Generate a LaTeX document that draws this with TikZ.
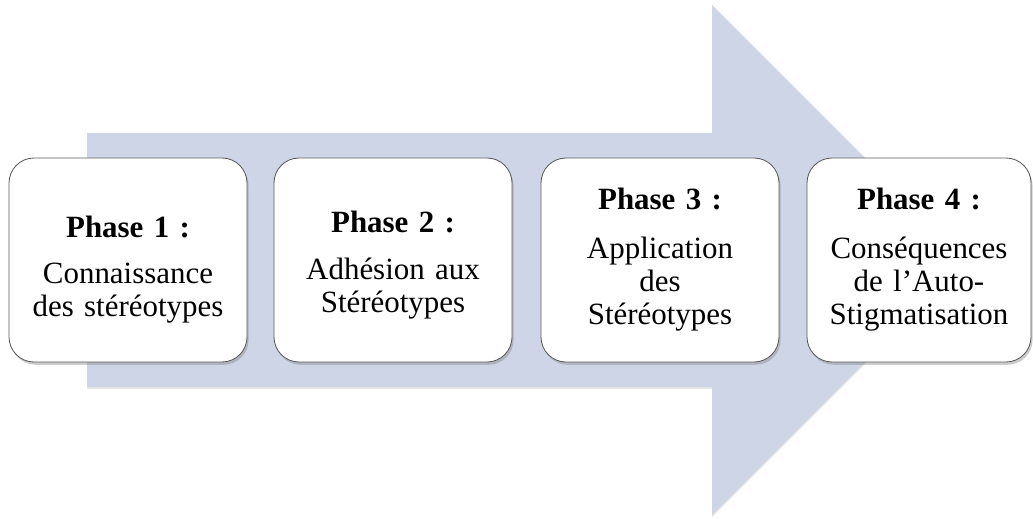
\documentclass[tikz,border=0pt]{standalone}
\usepackage{fontspec}
\setmainfont{Liberation Serif}
\usepackage{tikz}
\usepackage{xcolor}
\usetikzlibrary{shapes, shadows}

\definecolor{arrowblue}{HTML}{CDD5E6}
\definecolor{boxline}{HTML}{5A5A5A}

\begin{document}
\begin{tikzpicture}[
        phase/.style={rectangle, rounded corners=0.625cm, draw=boxline, line width=0.6pt, fill=white,
            minimum width=5.95cm, minimum height=5.1cm, text width=5.4cm, align=center,
            font=\fontsize{22}{23.5}\selectfont,
            drop shadow={opacity=0.4, shadow xshift=0.04cm, shadow yshift=-0.07cm}}]
        \useasboundingbox (0, 0) rectangle (25.825, 12.95);

        % big arrow behind the phases
        \fill[arrowblue, drop shadow={opacity=0.2, shadow xshift=0cm, shadow yshift=-0.05cm}]
            (2.175, 9.625) -- (17.8, 9.625) -- (17.8, 12.825) -- (24.175, 6.45)
            -- (17.8, 0.075) -- (17.8, 3.275) -- (2.175, 3.275) -- cycle;

        \node[phase] (p1) at (3.2, 6.45) {\rule{0pt}{29pt}\textbf{Phase 1 :}\\[0.32cm] Connaissance\\ des stéréotypes};
        \node[phase] (p2) at (9.825, 6.45) {\rule{0pt}{23pt}\textbf{Phase 2 :}\\[0.35cm] Adhésion aux\\ Stéréotypes};
        \node[phase] (p3) at (16.5, 6.45) {\textbf{Phase 3 :}\\[0.4cm] Application\\ des\\ Stéréotypes};
        \node[phase, minimum width=5.6cm, text width=5.2cm] (p4) at (22.975, 6.45) {\textbf{Phase 4 :}\\[0.4cm] Conséquences\\ de l’Auto-\\ Stigmatisation};
    \end{tikzpicture}
\end{document}
